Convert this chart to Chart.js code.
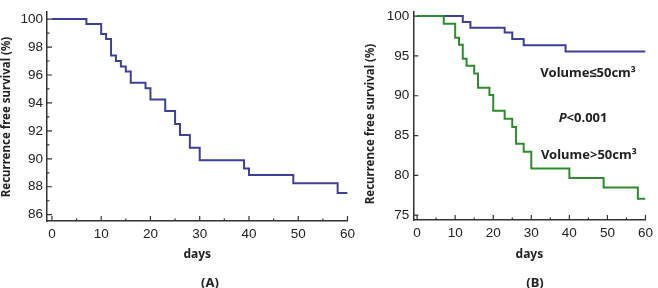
<!DOCTYPE html>
<html>
<head>
<meta charset="utf-8">
<script src="https://cdn.jsdelivr.net/npm/chart.js@4.4.1/dist/chart.umd.min.js"></script>
<style>
  html, body { margin: 0; padding: 0; background: #fff; }
  #wrap { position: relative; width: 658px; height: 288px; overflow: hidden; }
  canvas { position: absolute; top: 0; }
  #chartA { left: 0; }
  #chartB { left: 330px; }
  .tag { position: absolute; top: 273px; font: bold 13px "Noto Sans", sans-serif; color: #222;
         transform: translateX(-50%); line-height: 18px; }
</style>
</head>
<body>
<div id="wrap">
  <canvas id="chartA" width="360" height="288"></canvas>
  <canvas id="chartB" width="328" height="288"></canvas>
  <div class="tag" style="left:210px">(A)</div>
  <div class="tag" style="left:535px">(B)</div>
</div>
<script>
/*************************************************
 * Data
 *************************************************/
const daysA = [0, 7, 10, 11, 12, 13, 14, 15, 16, 19, 20, 23, 25, 26, 28, 30, 39, 40, 49, 58, 60];
const survA = [100, 99.65, 98.93, 98.58, 97.4, 97.0, 96.6, 96.25, 95.45, 95.05, 94.24, 93.43, 92.5, 91.7, 90.8, 89.9, 89.3, 88.85, 88.25, 87.55, 87.55];

const daysLow = [0, 12, 14, 23, 25, 28, 39, 60];
const survLow = [100, 99.25, 98.53, 97.93, 97.13, 96.34, 95.54, 95.54];

const daysHigh = [0, 7, 10, 11, 12, 13, 15, 16, 19, 20, 23, 25, 26, 28, 30, 40, 49, 58, 60];
const survHigh = [100, 99.05, 97.27, 96.4, 94.63, 93.77, 92.8, 91.0, 90.1, 88.1, 87.1, 86.07, 83.98, 82.98, 80.86, 79.67, 78.47, 77.08, 77.08];

const xTicks = [0, 10, 20, 30, 40, 50, 60];
const xMinor = [5, 15, 25, 35, 45, 55];
const yTicksA = [86, 88, 90, 92, 94, 96, 98, 100];
const yMinorA = [87, 89, 91, 93, 95, 97, 99];
const yTicksB = [75, 80, 85, 90, 95, 100];

const yTitle = "Recurrence free survival (%)";
const xTitle = "days";

const axisColor = "#333";
const blue = "#3d3f9c";
const green = "#2e8b2e";
const boldFont = '"Noto Sans", sans-serif';

Chart.defaults.font.family = '"Liberation Sans", Arial, sans-serif';
Chart.defaults.color = "#222";

function toPoints(xs, ys) {
    return xs.map((d, i) => ({ x: d, y: ys[i] }));
}

/*************************************************
 * Plugins: inward ticks, y title, notes
 *************************************************/
const axisExtras = {
    id: "axisExtras",
    afterDraw(chart, args, o) {
        const { ctx, chartArea: a, scales: { x, y } } = chart;
        ctx.save();
        ctx.strokeStyle = axisColor;
        ctx.lineWidth = 1.2;
        ctx.beginPath();
        o.xMajor.forEach(v => { const p = x.getPixelForValue(v); ctx.moveTo(p, a.bottom); ctx.lineTo(p, a.bottom - 5); });
        o.xMinor.forEach(v => { const p = x.getPixelForValue(v); ctx.moveTo(p, a.bottom); ctx.lineTo(p, a.bottom - 2.5); });
        o.yMajor.forEach(v => { const p = y.getPixelForValue(v); ctx.moveTo(a.left, p); ctx.lineTo(a.left + 5, p); });
        o.yMinor.forEach(v => { const p = y.getPixelForValue(v); ctx.moveTo(a.left, p); ctx.lineTo(a.left + 2.5, p); });
        ctx.stroke();

        // rotated y title
        ctx.fillStyle = "#222";
        ctx.font = "bold 11.5px " + boldFont;
        ctx.textAlign = "center";
        ctx.textBaseline = "middle";
        ctx.translate(o.titleX, o.titleY);
        ctx.rotate(-Math.PI / 2);
        ctx.fillText(yTitle, 0, 0);
        ctx.restore();

        // notes inside the plot
        (o.notes || []).forEach(n => {
            ctx.save();
            ctx.fillStyle = "#222";
            ctx.textBaseline = "middle";
            const fonts = n.parts.map(p => (p.italic ? "italic " : "") + "bold 13px " + boldFont);
            let w = 0;
            n.parts.forEach((p, i) => { ctx.font = fonts[i]; w += ctx.measureText(p.t).width; });
            let cx = x.getPixelForValue(n.x) - w / 2;
            const cy = y.getPixelForValue(n.y);
            ctx.textAlign = "left";
            n.parts.forEach((p, i) => { ctx.font = fonts[i]; ctx.fillText(p.t, cx, cy); cx += ctx.measureText(p.t).width; });
            ctx.restore();
        });
    }
};

/*************************************************
 * Shared options
 *************************************************/
function makeOptions(cfg) {
    return {
        responsive: false,
        animation: false,
        layout: { padding: { left: 0, top: cfg.top, right: cfg.right, bottom: 0 }, autoPadding: false },
        plugins: {
            legend: { display: false },
            tooltip: { enabled: false },
            axisExtras: cfg.extras
        },
        elements: { point: { radius: 0 }, line: { borderWidth: 2, stepped: true, tension: 0 } },
        scales: {
            x: {
                type: "linear", min: -1, max: 60,
                afterBuildTicks: s => { s.ticks = xTicks.map(v => ({ value: v })); },
                afterFit: s => { s.height = cfg.xHeight; },
                grid: { display: false, drawTicks: false },
                border: { display: true, color: axisColor, width: 1.5 },
                ticks: { padding: 5, font: { size: 13.5 }, maxRotation: 0, autoSkip: false },
                title: { display: true, text: xTitle, font: { family: boldFont, size: 12, weight: "bold" }, padding: { top: 0, bottom: 26 } }
            },
            y: {
                min: cfg.yMin, max: cfg.yMax,
                afterBuildTicks: s => { s.ticks = cfg.yTicks.map(v => ({ value: v })); },
                afterFit: s => { s.width = cfg.yWidth; },
                grid: { display: false, drawTicks: false },
                border: { display: true, color: axisColor, width: 1.5 },
                ticks: { padding: 4, font: { size: 13.5 }, autoSkip: false }
            }
        }
    };
}

/*************************************************
 * Chart A
 *************************************************/
new Chart(document.getElementById("chartA"), {
    type: "line",
    data: {
        datasets: [{ data: toPoints(daysA, survA), borderColor: blue }]
    },
    options: makeOptions({
        top: 7, right: 8.5, xHeight: 67, yWidth: 47,
        yMin: 85.55, yMax: 100.5, yTicks: yTicksA,
        extras: { xMajor: xTicks, xMinor: xMinor, yMajor: yTicksA, yMinor: yMinorA, titleX: 7, titleY: 117 }
    }),
    plugins: [axisExtras]
});

/*************************************************
 * Chart B
 *************************************************/
new Chart(document.getElementById("chartB"), {
    type: "line",
    data: {
        datasets: [
            { data: toPoints(daysHigh, survHigh), borderColor: green },
            { data: toPoints(daysLow, survLow), borderColor: blue }
        ]
    },
    options: makeOptions({
        top: 3.3, right: 7.5, xHeight: 68, yWidth: 83.3,
        yMin: 74.4, yMax: 100.5, yTicks: yTicksB,
        extras: {
            xMajor: xTicks, xMinor: xMinor, yMajor: yTicksB, yMinor: [],
            titleX: 41, titleY: 124,
            notes: [
                { x: 44.9, y: 92.8, parts: [{ t: "Volume\u226450cm\u00b3" }] },
                { x: 43.6, y: 87.2, parts: [{ t: "P", italic: true }, { t: "<0.001" }] },
                { x: 45.1, y: 82.5, parts: [{ t: "Volume>50cm\u00b3" }] }
            ]
        }
    }),
    plugins: [axisExtras]
});
</script>
</body>
</html>
